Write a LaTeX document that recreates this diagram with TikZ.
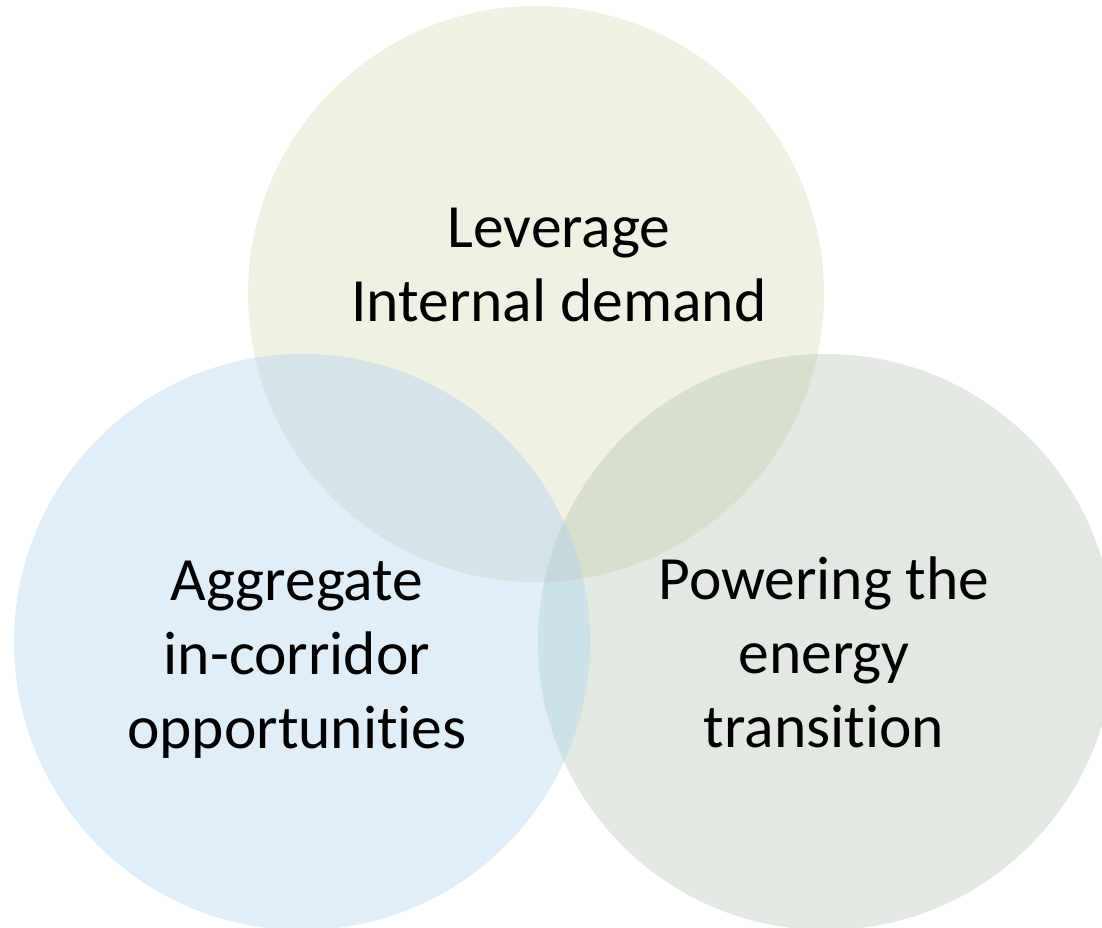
\documentclass[tikz,border=0pt]{standalone}
\usepackage{fontspec}
\setmainfont{Carlito}[RawFeature=-liga]

\definecolor{topfill}{HTML}{F0F0E4}
\definecolor{leftfill}{HTML}{E1EDF7}
\definecolor{rightfill}{HTML}{E2E9E2}
\definecolor{topleftfill}{HTML}{D5E3E6}
\definecolor{toprightfill}{HTML}{D7DFCE}
\definecolor{leftrightfill}{HTML}{CDE1E9}
\definecolor{middlefill}{HTML}{C5D9DC}

\begin{document}
\begin{tikzpicture}[x=1pt, y=-1pt,
    lbl/.style={align=center, inner sep=0pt, font=\fontsize{61.5}{74}\selectfont}]
  % Page: same proportions as the original slide crop
  \useasboundingbox (0,0) rectangle (1102,927);
  \clip (0,0) rectangle (1102,927);
  % Circle centres
  \coordinate (top) at (536,294);
  \coordinate (left) at (302,642);
  \coordinate (right) at (826,642);
  % Plain circles
  \fill[topfill] (top) circle (288pt);
  \fill[leftfill] (left) circle (288pt);
  \fill[rightfill] (right) circle (288pt);
  % Pairwise overlaps
  \begin{scope}
    \clip (top) circle (288pt);
    \fill[topleftfill] (left) circle (288pt);
    \fill[toprightfill] (right) circle (288pt);
  \end{scope}
  \begin{scope}
    \clip (left) circle (288pt);
    \fill[leftrightfill] (right) circle (288pt);
  \end{scope}
  % Centre, where all three meet
  \begin{scope}
    \clip (top) circle (288pt);
    \clip (left) circle (288pt);
    \fill[middlefill] (right) circle (288pt);
  \end{scope}
  % Labels
  \node[lbl] (demand) at (559,265) {Leverage\\Internal demand};
  \node[lbl] (corridor) at (297,660) {Aggregate\\in-corridor\\opportunities};
  \node[lbl] (energy) at (824,652) {Powering the\\energy\\transition};
\end{tikzpicture}
\end{document}
